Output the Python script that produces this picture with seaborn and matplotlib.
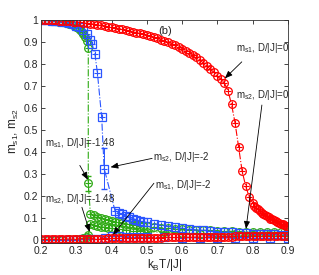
import matplotlib
matplotlib.use("Agg")
from matplotlib import pyplot as plt
import numpy as np
import pandas as pd
import seaborn as sns

# D/|J| = 0  (red)
t_red1 = [0.20, 0.21, 0.22, 0.23, 0.24, 0.25, 0.26, 0.27, 0.28, 0.29,
          0.30, 0.31, 0.32, 0.33, 0.34, 0.35, 0.36, 0.37, 0.38, 0.39,
          0.40, 0.41, 0.42, 0.43, 0.44, 0.45, 0.46, 0.47, 0.48, 0.49,
          0.50, 0.51, 0.52, 0.53, 0.54, 0.55, 0.56, 0.57, 0.58, 0.59,
          0.60, 0.61, 0.62, 0.63, 0.64, 0.65, 0.66, 0.67, 0.68, 0.69,
          0.70, 0.71, 0.72, 0.73, 0.74, 0.75, 0.76, 0.77, 0.78, 0.79,
          0.80, 0.805, 0.81, 0.815, 0.82, 0.825, 0.83, 0.835, 0.84, 0.845,
          0.85, 0.855, 0.86, 0.865, 0.87, 0.875, 0.88, 0.885, 0.89, 0.895, 0.90]
m_red1 = [1.000, 1.000, 0.999, 0.999, 0.998, 0.997, 0.996, 0.995, 0.994, 0.993,
          0.991, 0.989, 0.987, 0.985, 0.983, 0.981, 0.979, 0.976, 0.973, 0.970,
          0.967, 0.964, 0.961, 0.958, 0.954, 0.951, 0.947, 0.943, 0.939, 0.935,
          0.931, 0.926, 0.922, 0.917, 0.911, 0.905, 0.899, 0.893, 0.886, 0.878,
          0.870, 0.861, 0.851, 0.841, 0.830, 0.818, 0.805, 0.791, 0.777, 0.762,
          0.746, 0.730, 0.713, 0.679, 0.617, 0.533, 0.424, 0.314, 0.247, 0.197,
          0.170, 0.158, 0.148, 0.140, 0.133, 0.126, 0.120, 0.114, 0.109, 0.104,
          0.099, 0.095, 0.091, 0.087, 0.083, 0.080, 0.076, 0.073, 0.070, 0.067, 0.064]
t_red2 = [0.20, 0.21, 0.22, 0.23, 0.24, 0.25, 0.26, 0.27, 0.28, 0.29,
          0.30, 0.31, 0.32, 0.33, 0.34, 0.35, 0.36, 0.37, 0.38, 0.39,
          0.40, 0.41, 0.42, 0.43, 0.44, 0.45, 0.46, 0.47, 0.48, 0.49,
          0.50, 0.51, 0.52, 0.53, 0.54, 0.55, 0.56, 0.57, 0.58, 0.59,
          0.60, 0.61, 0.62, 0.63, 0.64, 0.65, 0.66, 0.67, 0.68, 0.69,
          0.70, 0.71, 0.72, 0.73, 0.74, 0.75, 0.76, 0.77, 0.78, 0.79,
          0.80, 0.81, 0.82, 0.83, 0.84, 0.85, 0.86, 0.87, 0.88, 0.89, 0.90]
m_red2 = [0.004, 0.004, 0.004, 0.005, 0.005, 0.005, 0.005, 0.006, 0.006, 0.006,
          0.006, 0.007, 0.007, 0.007, 0.007, 0.008, 0.008, 0.008, 0.008, 0.009,
          0.009, 0.009, 0.009, 0.010, 0.010, 0.010, 0.010, 0.011, 0.011, 0.011,
          0.011, 0.012, 0.012, 0.012, 0.012, 0.013, 0.013, 0.013, 0.013, 0.014,
          0.014, 0.014, 0.014, 0.015, 0.015, 0.015, 0.015, 0.016, 0.016, 0.016,
          0.016, 0.017, 0.017, 0.017, 0.017, 0.018, 0.018, 0.018, 0.018, 0.018,
          0.018, 0.018, 0.018, 0.018, 0.018, 0.018, 0.018, 0.018, 0.018, 0.018, 0.018]

# D/|J| = -1.48  (green)
t_grn1 = [0.20, 0.21, 0.22, 0.23, 0.24, 0.25, 0.26, 0.27, 0.28, 0.29,
          0.30, 0.305, 0.31, 0.315, 0.32, 0.325, 0.33, 0.334, 0.334,
          0.34, 0.35, 0.36, 0.37, 0.38, 0.39, 0.40, 0.41, 0.42, 0.43,
          0.44, 0.45, 0.46, 0.47, 0.48, 0.49, 0.50, 0.52, 0.54, 0.56,
          0.58, 0.60, 0.62, 0.64, 0.66, 0.68, 0.70, 0.72, 0.74, 0.76,
          0.78, 0.80, 0.82, 0.84, 0.86, 0.88, 0.90]
m_grn1 = [1.000, 0.999, 0.998, 0.997, 0.995, 0.993, 0.990, 0.987, 0.982, 0.976,
          0.968, 0.962, 0.955, 0.946, 0.935, 0.922, 0.905, 0.871, 0.258,
          0.120, 0.113, 0.107, 0.102, 0.097, 0.093, 0.089, 0.085, 0.082, 0.079,
          0.076, 0.073, 0.071, 0.069, 0.067, 0.065, 0.063, 0.060, 0.057, 0.055,
          0.053, 0.051, 0.049, 0.047, 0.046, 0.045, 0.043, 0.042, 0.041, 0.040,
          0.039, 0.038, 0.038, 0.037, 0.037, 0.036, 0.036]
t_grn2 = [0.20, 0.22, 0.24, 0.26, 0.28, 0.30, 0.31, 0.32, 0.33, 0.334,
          0.34, 0.35, 0.36, 0.37, 0.38, 0.39, 0.40, 0.42, 0.44, 0.46,
          0.48, 0.50, 0.55, 0.60, 0.65, 0.70, 0.75, 0.80, 0.85, 0.90]
m_grn2 = [0.002, 0.002, 0.003, 0.003, 0.004, 0.005, 0.007, 0.010, 0.016, 0.023,
          0.075, 0.070, 0.066, 0.062, 0.059, 0.056, 0.054, 0.050, 0.047, 0.044,
          0.042, 0.040, 0.036, 0.033, 0.031, 0.029, 0.027, 0.025, 0.024, 0.023]

# D/|J| = -2  (blue)
t_blu1 = [0.20, 0.21, 0.22, 0.23, 0.24, 0.25, 0.26, 0.27, 0.28, 0.29,
          0.30, 0.31, 0.32, 0.33, 0.34, 0.345, 0.353, 0.36, 0.372, 0.379,
          0.41, 0.42, 0.43, 0.44, 0.45, 0.46, 0.47, 0.48, 0.49, 0.50,
          0.52, 0.54, 0.56, 0.58, 0.60, 0.62, 0.64, 0.66, 0.68, 0.70,
          0.72, 0.74, 0.76, 0.78, 0.80, 0.82, 0.84, 0.86, 0.88, 0.90]
m_blu1 = [1.000, 0.999, 0.998, 0.997, 0.996, 0.994, 0.992, 0.989, 0.985, 0.980,
          0.974, 0.966, 0.955, 0.938, 0.910, 0.890, 0.844, 0.758, 0.558, 0.326,
          0.133, 0.125, 0.118, 0.111, 0.105, 0.099, 0.094, 0.089, 0.085, 0.081,
          0.075, 0.069, 0.064, 0.059, 0.055, 0.051, 0.048, 0.045, 0.042, 0.040,
          0.038, 0.036, 0.034, 0.032, 0.030, 0.029, 0.028, 0.027, 0.026, 0.025]
t_blu2 = [0.20, 0.22, 0.24, 0.26, 0.28, 0.30, 0.32, 0.34, 0.36, 0.38,
          0.40, 0.42, 0.44, 0.46, 0.48, 0.50, 0.55, 0.60, 0.65, 0.70,
          0.75, 0.80, 0.85, 0.90]
m_blu2 = [0.002, 0.002, 0.002, 0.003, 0.003, 0.003, 0.004, 0.005, 0.007, 0.012,
          0.020, 0.018, 0.017, 0.016, 0.015, 0.014, 0.013, 0.012, 0.011, 0.010,
          0.010, 0.009, 0.009, 0.009]

# error bars at the jumps
t_err = [0.334, 0.379]
m_err = [0.258, 0.326]
e_err = [0.032, 0.095]

RED = "#ff0000"
GREEN = "#2eaa14"
BLUE = "#2a55ff"

sns.set_style("ticks")
plt.rcParams["font.family"] = ["Liberation Sans", "DejaVu Sans"]
plt.rcParams["mathtext.fontset"] = "custom"
plt.rcParams["mathtext.rm"] = "Liberation Sans"
plt.rcParams["mathtext.it"] = "Liberation Sans:italic"

fig = plt.figure(figsize=(3.19, 2.75), dpi=100)
ax = fig.add_axes([0.1285, 0.1164, 0.7743, 0.8109])


def draw(t, m, color, mk):
    df = pd.DataFrame({"t": t, "m": m})
    sns.lineplot(data=df, x="t", y="m", ax=ax, color=color, sort=False,
                 estimator=None, linestyle="-.", linewidth=0.8,
                 marker=mk, markersize=5.5, markerfacecolor="none",
                 markeredgecolor=color, markeredgewidth=0.9)
    sns.scatterplot(data=df, x="t", y="m", ax=ax, color=color,
                    marker="+", s=16, linewidth=0.8)


draw(t_grn1, m_grn1, GREEN, "o")
draw(t_grn2, m_grn2, GREEN, "o")
draw(t_blu1, m_blu1, BLUE, "s")
draw(t_blu2, m_blu2, BLUE, "s")
draw(t_red2, m_red2, RED, "o")
draw(t_red1, m_red1, RED, "o")

ax.errorbar(t_err[:1], m_err[:1], yerr=e_err[:1], fmt="none", ecolor=GREEN,
            elinewidth=0.7, capsize=2)
ax.errorbar(t_err[1:], m_err[1:], yerr=e_err[1:], fmt="none", ecolor=BLUE,
            elinewidth=0.7, capsize=2)

ax.set_xlim(0.2, 0.9)
ax.set_ylim(-0.012, 1.0)
ax.set_xticks([0.2, 0.3, 0.4, 0.5, 0.6, 0.7, 0.8, 0.9])
ax.set_xticklabels(["0.2", "0.3", "0.4", "0.5", "0.6", "0.7", "0.8", "0.9"])
ax.set_yticks([0, 0.1, 0.2, 0.3, 0.4, 0.5, 0.6, 0.7, 0.8, 0.9, 1.0])
ax.set_yticklabels(["0", "0.1", "0.2", "0.3", "0.4", "0.5", "0.6", "0.7",
                    "0.8", "0.9", "1"])
ax.tick_params(direction="in", top=True, right=True, labelsize=7.5,
               length=3, width=0.6, pad=2)
for s in ax.spines.values():
    s.set_linewidth(0.6)
    s.set_color("#333333")

ax.set_xlabel(r"$\mathrm{k_B}$T/|J|", fontsize=8.5, labelpad=1)
ax.set_ylabel(r"$\mathrm{m_{s1}}$, $\mathrm{m_{s2}}$", fontsize=8.5, labelpad=2)

ax.text(0.553, 0.95, "(b)", fontsize=8, ha="center", va="center")

fs = 7
labels = [
    (r"$\mathrm{m_{s1}}$, D/|J|=0", 0.753, 0.873),
    (r"$\mathrm{m_{s2}}$, D/|J|=0", 0.753, 0.660),
    (r"$\mathrm{m_{s1}}$, D/|J|=-1.48", 0.211, 0.441),
    (r"$\mathrm{m_{s2}}$, D/|J|=-2", 0.518, 0.377),
    (r"$\mathrm{m_{s1}}$, D/|J|=-2", 0.522, 0.252),
    (r"$\mathrm{m_{s2}}$, D/|J|=-1.48", 0.211, 0.186),
]
for txt, x, y in labels:
    ax.text(x, y, txt, fontsize=fs, ha="left", va="center")

arrows = [
    ((0.769, 0.81), (0.721, 0.735)),
    ((0.826, 0.614), (0.781, 0.052)),
    ((0.31, 0.34), (0.333, 0.275)),
    ((0.515, 0.372), (0.397, 0.332)),
    ((0.52, 0.259), (0.404, 0.025)),
    ((0.316, 0.15), (0.338, 0.038)),
]
for start, end in arrows:
    ax.annotate("", xy=end, xytext=start,
                arrowprops=dict(arrowstyle="-|>,head_length=0.45,head_width=0.18",
                                color="black", lw=0.6, shrinkA=0, shrinkB=0))

fig.savefig("out.png", dpi=100)
